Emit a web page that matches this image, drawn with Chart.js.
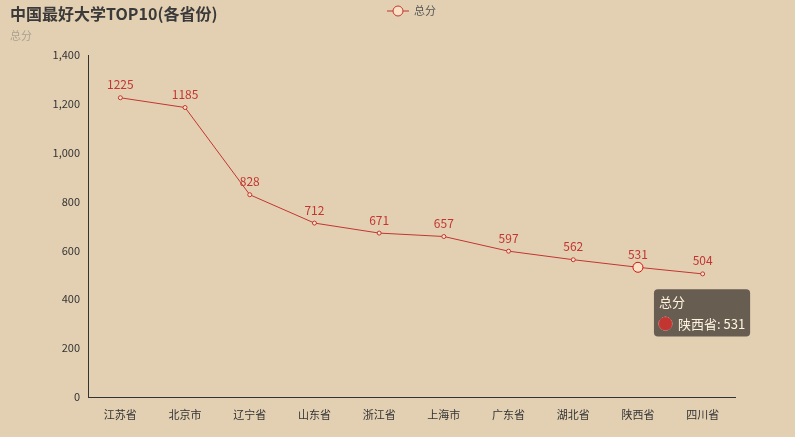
<!DOCTYPE html>
<html>
<head>
<meta charset="utf-8">
<script src="https://cdn.jsdelivr.net/npm/chart.js@4"></script>
<style>
  html, body { margin: 0; padding: 0; background: #e3d0b3; }
  #wrap { width: 795px; height: 437px; }
</style>
</head>
<body>
<div id="wrap"><canvas id="myChart"></canvas></div>
<script>
const provinces = ["江苏省", "北京市", "辽宁省", "山东省", "浙江省", "上海市", "广东省", "湖北省", "陕西省", "四川省"];
const scores = [1225, 1185, 828, 712, 671, 657, 597, 562, 531, 504];
const yTicks = [0, 1400, 200];

const FONT = "'Noto Sans CJK SC', 'Noto Sans', sans-serif";
const RED = '#c23531';

// title, subtitle, legend and point labels
const decor = {
  id: 'decor',
  afterDatasetsDraw(chart) {
    const ctx = chart.ctx;
    ctx.save();
    ctx.textBaseline = 'middle';
    ctx.fillStyle = '#3a3a3a';
    ctx.font = "bold 16px " + FONT;
    ctx.textAlign = 'left';
    ctx.fillText('中国最好大学TOP10(各省份)', 10, 14);
    ctx.fillStyle = '#aaa08f';
    ctx.font = "11px " + FONT;
    ctx.fillText('总分', 10, 36);

    // legend
    ctx.strokeStyle = RED;
    ctx.lineWidth = 1;
    ctx.beginPath(); ctx.moveTo(387, 11); ctx.lineTo(409, 11); ctx.stroke();
    ctx.beginPath(); ctx.arc(398, 11, 5, 0, Math.PI * 2);
    ctx.fillStyle = '#fbe2c6'; ctx.fill(); ctx.stroke();
    ctx.fillStyle = '#555';
    ctx.font = "11px " + FONT;
    ctx.fillText('总分', 414, 11);

    // value labels
    const meta = chart.getDatasetMeta(0);
    ctx.fillStyle = RED;
    ctx.font = "12px " + FONT;
    ctx.textAlign = 'center';
    meta.data.forEach((pt, i) => {
      ctx.fillText(String(scores[i]), pt.x, pt.y - 13);
    });
    ctx.restore();
  }
};

Chart.Tooltip.positioners.offsetPoint = function (items) {
  if (!items.length) return false;
  const el = items[0].element;
  return { x: el.x + 20, y: el.y + 22 };
};

const ctx = document.getElementById('myChart').getContext('2d');
const myChart = new Chart(ctx, {
  type: 'line',
  data: {
    labels: provinces,
    datasets: [{
      label: '总分',
      data: scores,
      borderColor: RED,
      borderWidth: 1,
      backgroundColor: '#fbe2c6',
      pointBackgroundColor: '#fbe2c6',
      pointBorderColor: RED,
      pointRadius: 2,
      pointBorderWidth: 1,
      pointHoverRadius: 5,
      pointHoverBorderWidth: 1,
      pointHoverBackgroundColor: '#fbe2c6',
      tension: 0
    }]
  },
  options: {
    responsive: true,
    maintainAspectRatio: false,
    animation: false,
    events: [],
    layout: { padding: { top: 55, right: 60, left: 0, bottom: 0 } },
    plugins: {
      legend: { display: false },
      tooltip: {
        position: 'offsetPoint',
        xAlign: 'left',
        yAlign: 'top',
        caretSize: 0,
        caretPadding: 0,
        backgroundColor: 'rgba(90,80,70,0.9)',
        titleColor: '#fff4e0',
        bodyColor: '#fff4e0',
        titleFont: { family: FONT, size: 13, weight: 'normal' },
        bodyFont: { family: FONT, size: 13 },
        padding: 5,
        cornerRadius: 4,
        boxPadding: 4,
        usePointStyle: true,
        callbacks: {
          title: () => '总分',
          label: (c) => c.label + ': ' + c.parsed.y,
          labelColor: () => ({ borderColor: RED, backgroundColor: RED }),
          labelPointStyle: () => ({ pointStyle: 'circle', rotation: 0 })
        }
      }
    },
    scales: {
      x: {
        offset: true,
        grid: { display: false, drawTicks: true, tickColor: '#333' },
        border: { color: '#333' },
        ticks: { color: '#333', font: { family: FONT, size: 11 } },
        afterFit(scale) { scale.height = 40; }
      },
      y: {
        min: yTicks[0],
        max: yTicks[1],
        grid: { display: false, drawTicks: true, tickColor: '#333', tickLength: 5 },
        border: { color: '#333' },
        ticks: { stepSize: yTicks[2], color: '#333', font: { family: FONT, size: 11 } },
        afterFit(scale) { scale.width = 88; }
      }
    }
  },
  plugins: [decor]
});

const idx = 8;
myChart.setActiveElements([{ datasetIndex: 0, index: idx }]);
const pt = myChart.getDatasetMeta(0).data[idx];
myChart.tooltip.setActiveElements([{ datasetIndex: 0, index: idx }], { x: pt.x, y: pt.y });
myChart.update();
</script>
</body>
</html>
